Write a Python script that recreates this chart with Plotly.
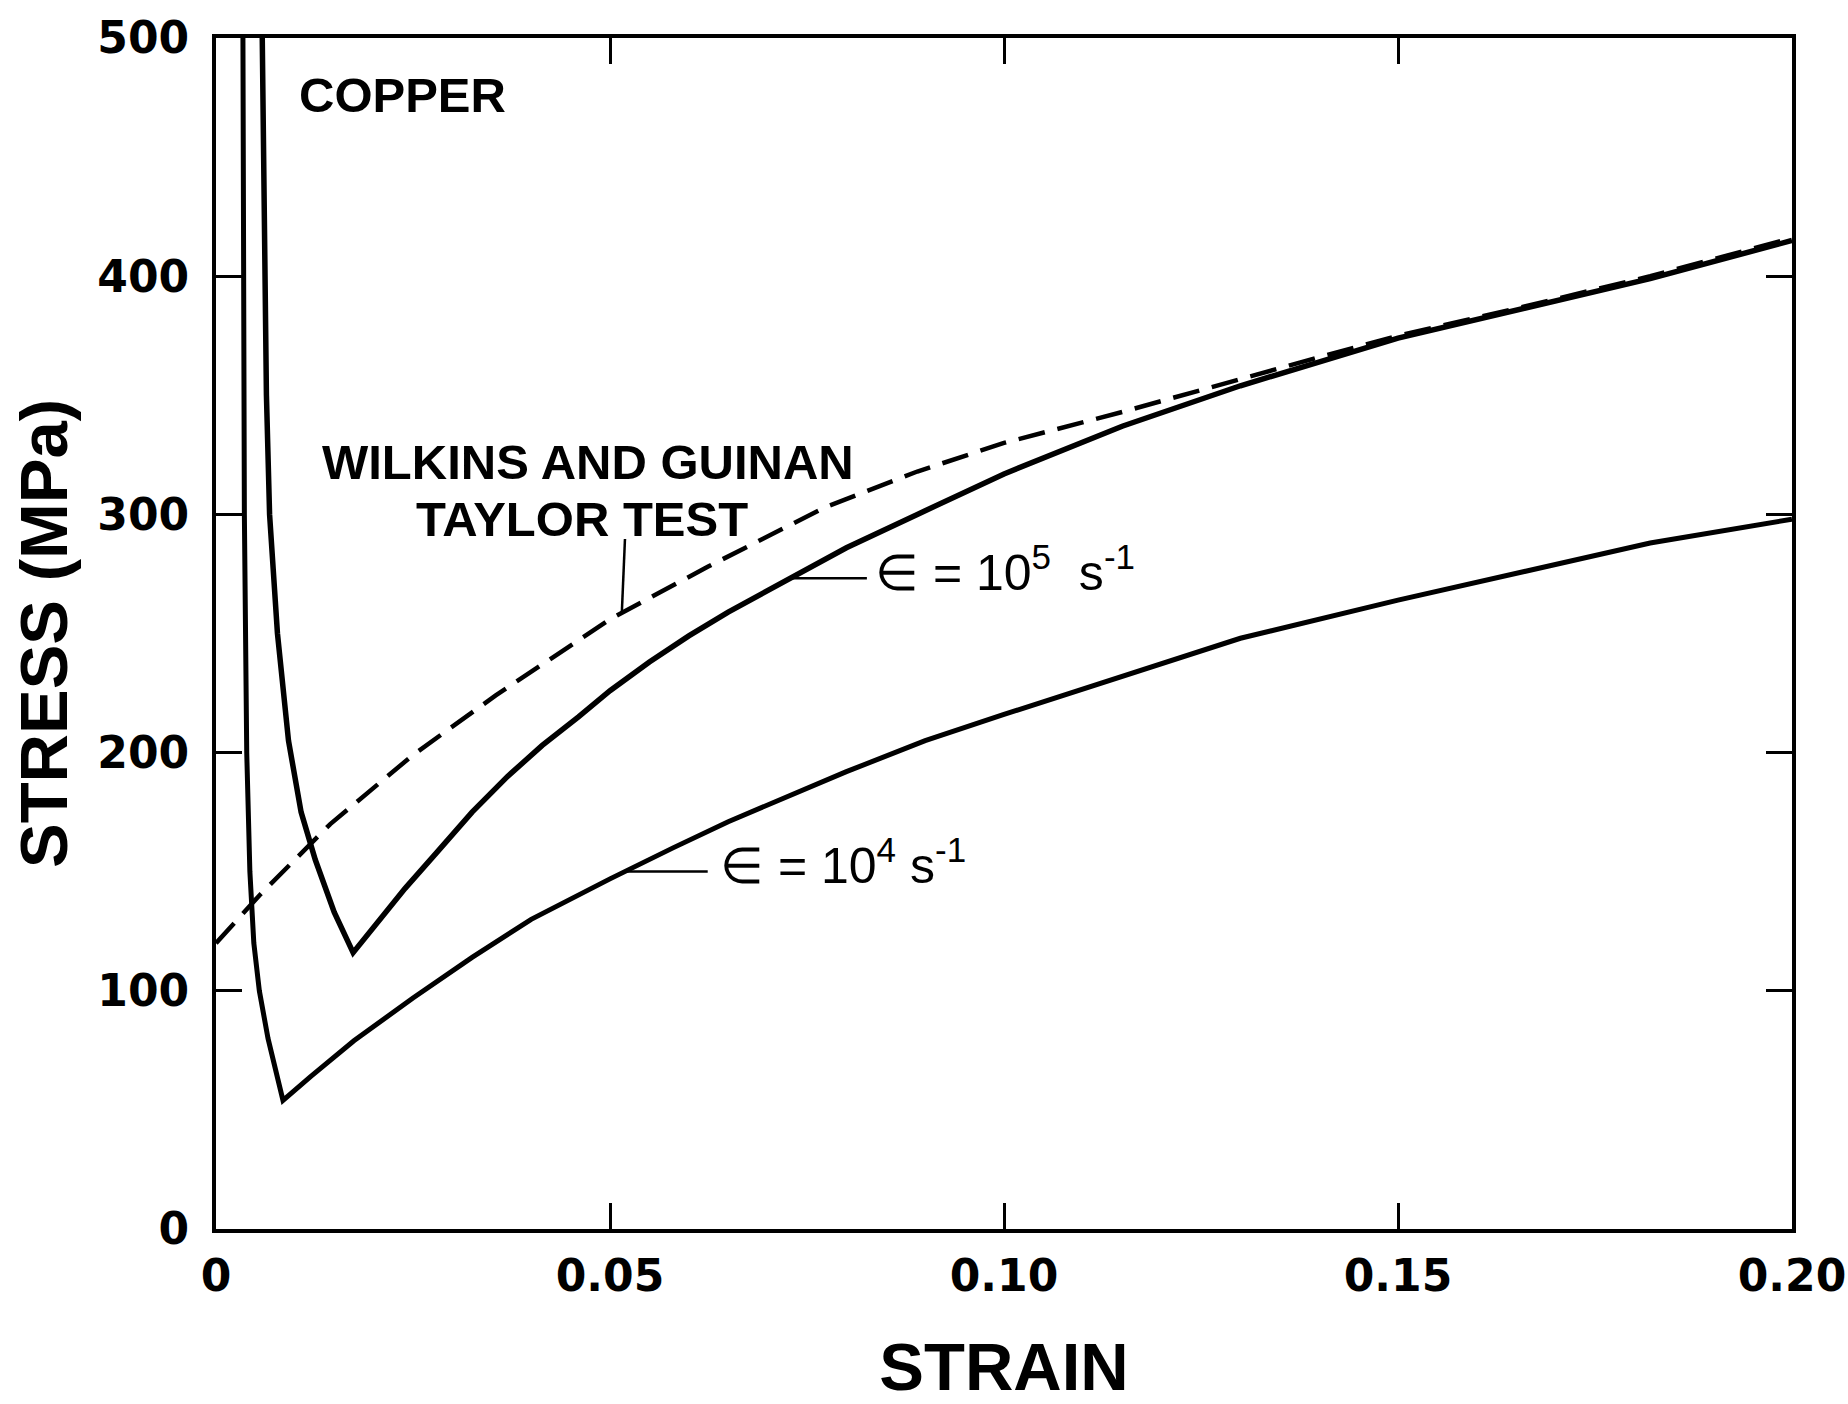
import numpy as np
import plotly.graph_objects as go

# ---------------- data ----------------
strain_1e4 = [0.0034, 0.0035, 0.0036, 0.0039, 0.0043, 0.0048, 0.0055, 0.0066, 0.0085,
              0.012, 0.0175, 0.025, 0.0325, 0.040, 0.050, 0.058, 0.065, 0.080, 0.090,
              0.100, 0.115, 0.130, 0.150, 0.167, 0.182, 0.200]
stress_1e4 = [520, 400, 300, 200, 150, 120, 100, 80, 54,
              64, 79, 97, 114, 130, 147, 160, 171, 192, 205,
              216, 232, 248, 264, 277, 288, 298]

strain_1e5 = [0.0058, 0.0060, 0.0064, 0.0068, 0.0078, 0.0092, 0.0108, 0.0126, 0.0150, 0.0174,
              0.020, 0.024, 0.028, 0.0325, 0.037, 0.0414, 0.046, 0.050, 0.055, 0.060,
              0.065, 0.070, 0.075, 0.080, 0.089, 0.100, 0.115, 0.130, 0.150, 0.167,
              0.182, 0.200]
stress_1e5 = [520, 450, 350, 300, 250, 205, 175, 155, 133, 116,
              127, 143, 158, 175, 190, 203, 215, 226, 238, 249,
              259, 268, 277, 286, 300, 317, 337, 354, 374, 387,
              399, 415]

strain_wg = [0.0, 0.0055, 0.0145, 0.025, 0.0355, 0.050, 0.0624, 0.0773, 0.089, 0.100,
             0.115, 0.130, 0.140, 0.150, 0.167, 0.182, 0.200]
stress_wg = [120, 140, 170, 199, 224, 256, 278, 303, 318, 330,
             343, 357, 366, 375, 388, 400, 416]

x_ticks = [0, 0.05, 0.10, 0.15, 0.20]
x_tick_labels = ["0", "0.05", "0.10", "0.15", "0.20"]
y_ticks = [0, 100, 200, 300, 400, 500]
y_tick_labels = ["0", "100", "200", "300", "400", "500"]

# strains where the leader lines touch the curves
lead_1e5_x = 0.0729
lead_1e4_x = 0.0519
lead_wg_x = 0.0515

FONT = "Liberation Sans, Arial, Helvetica, sans-serif"
TICKFONT = "DejaVu Sans, Liberation Sans, sans-serif"
BLACK = "#000000"

fig = go.Figure()
fig.add_trace(go.Scatter(x=strain_1e4, y=stress_1e4, mode="lines",
                         line=dict(color=BLACK, width=5), name="1e4", showlegend=False))
fig.add_trace(go.Scatter(x=strain_1e5, y=stress_1e5, mode="lines",
                         line=dict(color=BLACK, width=5.5), name="1e5", showlegend=False))
fig.add_trace(go.Scatter(x=strain_wg, y=stress_wg, mode="lines",
                         line=dict(color=BLACK, width=4.5, dash="27px,13px"),
                         name="Wilkins and Guinan", showlegend=False))

y5 = float(np.interp(lead_1e5_x, strain_1e5[9:], stress_1e5[9:]))
y4 = float(np.interp(lead_1e4_x, strain_1e4[8:], stress_1e4[8:]))
ywg = float(np.interp(lead_wg_x, strain_wg, stress_wg))

shapes = [
    dict(type="line", xref="x", yref="y", x0=lead_1e5_x, y0=y5, x1=lead_1e5_x + 0.0097, y1=y5,
         line=dict(color=BLACK, width=2.5)),
    dict(type="line", xref="x", yref="y", x0=lead_1e4_x, y0=y4, x1=lead_1e4_x + 0.0105, y1=y4,
         line=dict(color=BLACK, width=2.5)),
    dict(type="line", xref="x", yref="y", x0=lead_wg_x, y0=ywg, x1=lead_wg_x + 0.0004, y1=ywg + 31,
         line=dict(color=BLACK, width=2.5)),
]

ann_font_bold = dict(family=FONT, size=49, color=BLACK, weight="bold")
ann_font_eps = dict(family=FONT, size=50, color=BLACK)
annotations = [
    dict(x=0.0103, y=476, xref="x", yref="y", text="COPPER", showarrow=False,
         xanchor="left", yanchor="middle", font=ann_font_bold),
    dict(x=0.0472, y=322, xref="x", yref="y", text="WILKINS AND GUINAN", showarrow=False,
         xanchor="center", yanchor="middle", font=ann_font_bold),
    dict(x=0.0464, y=298, xref="x", yref="y", text="TAYLOR TEST", showarrow=False,
         xanchor="center", yanchor="middle", font=ann_font_bold),
    dict(x=lead_1e5_x + 0.0105, y=y5 + 4, xref="x", yref="y",
         text="∈ = 10<sup>5</sup>  s<sup>-1</sup>", showarrow=False,
         xanchor="left", yanchor="middle", font=ann_font_eps),
    dict(x=lead_1e4_x + 0.0118, y=y4 + 4, xref="x", yref="y",
         text="∈ = 10<sup>4</sup> s<sup>-1</sup>", showarrow=False,
         xanchor="left", yanchor="middle", font=ann_font_eps),
]

axis_common = dict(showgrid=False, zeroline=False, showline=True, linecolor=BLACK, linewidth=4,
                   mirror="ticks", ticks="inside", ticklen=26, tickwidth=3, tickcolor=BLACK,
                   automargin=False,
                   tickfont=dict(family=TICKFONT, size=44, color=BLACK, weight="bold"))

fig.update_layout(
    width=1848, height=1404,
    margin=dict(l=216, r=56, t=38, b=175, pad=0),
    paper_bgcolor="white", plot_bgcolor="white",
    showlegend=False,
    shapes=shapes, annotations=annotations,
    xaxis=dict(range=[0, 0.20], tickvals=x_ticks, ticktext=x_tick_labels, ticklabelstandoff=5,
               title=dict(text="STRAIN", font=dict(family=FONT, size=67, color=BLACK, weight="bold"),
                          standoff=50),
               **axis_common),
    yaxis=dict(range=[0, 500], tickvals=y_ticks, ticktext=y_tick_labels, ticklabelstandoff=14,
               title=dict(text="STRESS (MPa)", font=dict(family=FONT, size=67, color=BLACK, weight="bold"),
                          standoff=9),
               **axis_common),
)

fig.write_html("out.html")
